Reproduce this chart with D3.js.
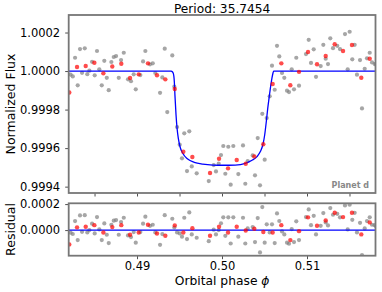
<!DOCTYPE html>
<html>
<head>
<meta charset="utf-8">
<script src="https://cdn.jsdelivr.net/npm/d3@7"></script>
<style>
  body { margin: 0; background: #fff; }
  text { font-family: "DejaVu Sans", sans-serif; }
</style>
</head>
<body>
<div id="chart"></div>
<script>
// unbinned points (phase, flux, residual)
const grayPhase = [0.48218,0.48244,0.48271,0.48302,0.48329,0.48353,0.48385,0.48415,0.48439,0.48471,0.48502,0.48529,0.48556,0.48585,0.48615,0.48644,0.48667,0.48698,0.48726,0.48753,0.48785,0.48812,0.48844,0.48894,0.48929,0.48961,0.48985,0.49039,0.49071,0.49098,0.49153,0.49185,0.49215,0.49271,0.49298,0.49326,0.49356,0.49415,0.49439,0.49471,0.49502,0.49529,0.49556,0.49588,0.49615,0.49644,0.49702,0.49844,0.49902,0.49929,0.49961,0.49988,0.50015,0.50039,0.50074,0.50102,0.50133,0.50192,0.50247,0.50274,0.50302,0.50361,0.50388,0.50420,0.50447,0.50474,0.50502,0.50526,0.50561,0.50588,0.50620,0.50647,0.50674,0.50706,0.50733,0.50765,0.50788,0.50820,0.50847,0.50874,0.50906,0.50988,0.51020,0.51047,0.51079,0.51106,0.51161,0.51192,0.51220,0.51247,0.51274,0.51306,0.51356,0.51388,0.51447,0.51479,0.51502,0.51533,0.51561,0.51588,0.51624,0.51647,0.51679,0.51706,0.51738,0.51765,0.51796,0.51812];
const grayFlux = [0.999982,0.999972,1.000069,0.999926,1.000114,0.999991,1.000118,0.999984,1.000002,1.000048,0.999978,1.000104,1.000009,0.999926,1.000053,0.999965,0.999901,1.000047,1.000073,1.000078,0.999965,1.000057,1.000095,0.999957,0.999947,0.999983,0.999905,0.999979,1.000050,1.000104,1.000035,1.000040,0.999990,0.999887,0.999967,1.000116,0.999787,1.000081,0.999919,0.999709,0.999618,0.999547,0.999677,0.999481,0.999687,0.999505,0.999469,0.999429,0.999512,0.999479,0.999519,0.999564,0.999611,0.999467,0.999607,0.999410,0.999611,0.999465,0.999614,0.999415,0.999533,0.999562,0.999459,0.999652,0.999407,0.999778,0.999540,0.999756,0.999869,1.000028,0.999903,1.000131,1.000076,0.999990,0.999965,0.999898,0.999891,1.000009,0.999905,1.000069,0.999924,1.000088,1.000162,1.000042,1.000113,0.999970,1.000026,1.000136,1.000064,1.000036,1.000170,1.000119,1.000131,1.000114,1.000192,1.000009,1.000204,1.000061,1.000136,0.999981,1.000057,0.999806,1.000012,1.000066,1.000095,1.000045,1.000036,1.000036];
const grayResid = [-0.00002,-0.00003,0.000069,-0.000077,0.000113,-0.000013,0.000115,-0.000018,0,0.000049,-0.000026,0.0001,0.000005,-0.000077,0.000051,-0.000036,-0.0001,0.000041,0.000072,0.000077,-0.000036,0.000062,0.000095,-0.000041,-0.000054,-0.000015,-0.000097,-0.000015,0.000049,0.000103,0.000033,0.000041,-0.000018,-0.000113,-0.000031,0.000115,-0.00021,0.000087,0.00002,-0.000018,-0.000026,-0.000051,0.000095,-0.000069,0.000136,-0.000033,-0.000059,-0.000085,0.000003,-0.000033,0,0.000052,0.000098,-0.000044,0.000098,-0.000103,0.000098,-0.000051,0.000095,-0.000103,0.000013,0.000023,-0.000092,0.000092,-0.000172,0.000177,-0.000097,0.000044,-0.000018,0.000044,-0.0001,0.000128,0.00007,-0.00001,-0.000033,-0.000097,-0.000105,0.000008,-0.000092,0.000067,-0.000077,0.0001,0.000159,0.000038,0.00011,-0.000033,0.000033,0.000131,0.000059,0.000036,0.000169,0.000118,0.000125,0.000098,0.00019,0.000005,0.000195,0.000079,0.000133,-0.000018,0.000056,-0.000192,0.000013,0.000069,0.000098,0.000041,0.000038,0.00003];

// binned points
const redPhase = [0.48203,0.48294,0.48396,0.48498,0.48604,0.48709,0.48815,0.48918,0.49020,0.49129,0.49235,0.49333,0.49444,0.49545,0.49651,0.49859,0.49965,0.50071,0.50173,0.50279,0.50380,0.50486,0.50596,0.50698,0.50804,0.50906,0.51012,0.51118,0.51220,0.51326,0.51424,0.51529,0.51639,0.51738];
const redFlux = [0.999889,1.000021,1.000026,1.000043,0.999988,1.000024,1.000038,0.999964,0.999983,1.000040,0.999978,0.999957,0.999907,0.999581,0.999554,0.999471,0.999545,0.999495,0.999538,0.999519,0.999557,0.999620,0.999933,1.000040,0.999926,0.999996,1.000099,1.000035,1.000078,1.000139,1.000104,1.000135,0.999965,1.000064];
const redResid = [-0.00011,0.000021,0.000026,0.000038,-0.000018,0.000023,0.000038,-0.000036,-0.000018,0.000041,-0.000026,-0.000044,0.000036,-0.000018,0.000015,-0.000044,0.000026,-0.000018,0.000026,-0.000003,0.00001,-0.000015,-0.000018,0.000038,-0.000077,-0.000008,0.000098,0.000033,0.000074,0.000133,0.0001,0.000133,-0.000033,0.000059];

// transit model
const modelPhase = [0.48196,0.49400,0.49418,0.49427,0.49439,0.49446,0.49459,0.49471,0.49486,0.49506,0.49538,0.49596,0.49674,0.49773,0.49891,0.50000,0.50156,0.50274,0.50353,0.50412,0.50451,0.50482,0.50502,0.50521,0.50538,0.50553,0.50576,0.50588,0.50600,0.50608,0.51806];
const modelFlux = [1.0,1.0,0.999995,0.999988,0.999944,0.999875,0.999772,0.999703,0.999651,0.999607,0.999573,0.999543,0.999526,0.999517,0.999512,0.999511,0.999512,0.999521,0.999537,0.999556,0.999582,0.999620,0.999668,0.999737,0.999806,0.999858,0.999932,0.999965,0.999990,1.0,1.0];

const fluxTicks = [0.9994, 0.9996, 0.9998, 1.0, 1.0002];
const residTicks = [0.0, 0.0002];
const phaseTicksTop = [0.485, 0.49, 0.495, 0.50, 0.505, 0.51, 0.515];
const phaseTicks = [0.49, 0.50, 0.51];

const W = 382, H = 292;
const left = 68.7, right = 375.5;
const top1 = 15, bot1 = 193;
const top2 = 203.3, bot2 = 255.7;

const svg = d3.select('#chart').append('svg')
    .attr('width', W).attr('height', H);

const x = d3.scaleLinear().domain([0.48196, 0.51806]).range([left, right]);
const yTop = d3.scaleLinear().domain([0.999367, 1.000291]).range([bot1, top1]);
const yBot = d3.scaleLinear().domain([-0.000197, 0.000206]).range([bot2, top2]);

const defs = svg.append('defs');
defs.append('clipPath').attr('id', 'clipTop').append('rect')
    .attr('x', left).attr('y', top1).attr('width', right - left).attr('height', bot1 - top1);
defs.append('clipPath').attr('id', 'clipBot').append('rect')
    .attr('x', left).attr('y', top2).attr('width', right - left).attr('height', bot2 - top2);

const gray = grayPhase.map((p, i) => ({ p, f: grayFlux[i], r: grayResid[i] }));
const red = redPhase.map((p, i) => ({ p, f: redFlux[i], r: redResid[i] }));
const model = modelPhase.map((p, i) => ({ p, f: modelFlux[i] }));

// top panel
const gTop = svg.append('g').attr('clip-path', 'url(#clipTop)');
gTop.selectAll('.g').data(gray).join('circle')
    .attr('cx', d => x(d.p)).attr('cy', d => yTop(d.f)).attr('r', 2.1)
    .attr('fill', 'gray').attr('fill-opacity', 0.7);
gTop.append('path').datum(model)
    .attr('d', d3.line().x(d => x(d.p)).y(d => yTop(d.f)).curve(d3.curveMonotoneX))
    .attr('fill', 'none').attr('stroke', 'blue').attr('stroke-width', 1.3);
gTop.selectAll('.r').data(red).join('circle')
    .attr('cx', d => x(d.p)).attr('cy', d => yTop(d.f)).attr('r', 2.2)
    .attr('fill', 'red').attr('fill-opacity', 0.7);

// bottom panel
const gBot = svg.append('g').attr('clip-path', 'url(#clipBot)');
gBot.selectAll('.g').data(gray).join('circle')
    .attr('cx', d => x(d.p)).attr('cy', d => yBot(d.r)).attr('r', 2.1)
    .attr('fill', 'gray').attr('fill-opacity', 0.7);
gBot.append('line')
    .attr('x1', left).attr('x2', right).attr('y1', yBot(0)).attr('y2', yBot(0))
    .attr('stroke', 'blue').attr('stroke-width', 1.3);
gBot.selectAll('.r').data(red).join('circle')
    .attr('cx', d => x(d.p)).attr('cy', d => yBot(d.r)).attr('r', 2.2)
    .attr('fill', 'red').attr('fill-opacity', 0.7);

// axes
function styleAxis(g) {
    g.select('.domain').remove();
    g.selectAll('.tick line').attr('stroke', '#222').attr('stroke-width', 0.8);
    g.selectAll('.tick text').attr('fill', '#000')
        .style('font-family', '"DejaVu Sans", sans-serif').style('font-size', '11.5px');
}
svg.append('g').attr('transform', `translate(${left},0)`)
    .call(d3.axisLeft(yTop).tickValues(fluxTicks).tickFormat(d3.format('.4f')).tickSize(3.5).tickPadding(5))
    .call(styleAxis);
svg.append('g').attr('transform', `translate(0,${bot1})`)
    .call(d3.axisBottom(x).tickValues(phaseTicksTop).tickFormat('').tickSize(3.5))
    .call(styleAxis);
svg.append('g').attr('transform', `translate(${left},0)`)
    .call(d3.axisLeft(yBot).tickValues(residTicks).tickFormat(d3.format('.4f')).tickSize(3.5).tickPadding(5))
    .call(styleAxis);
svg.append('g').attr('transform', `translate(0,${bot2})`)
    .call(d3.axisBottom(x).tickValues(phaseTicks).tickFormat(d3.format('.2f')).tickSize(3.5).tickPadding(3))
    .call(styleAxis);

// frames
[[top1, bot1], [top2, bot2]].forEach(([t, b]) => {
    svg.append('rect').attr('x', left).attr('y', t)
        .attr('width', right - left).attr('height', b - t)
        .attr('fill', 'none').attr('stroke', '#777').attr('stroke-width', 1.8);
});

// texts
svg.append('text').attr('x', (left + right) / 2).attr('y', 13)
    .attr('text-anchor', 'middle').style('font-size', '12.2px').text('Period: 35.7454');

svg.append('text').attr('x', 369).attr('y', 188)
    .attr('text-anchor', 'end').attr('fill', '#888').style('font-weight', 'bold')
    .style('font-size', '8px').text('Planet d');

svg.append('text').attr('transform', `translate(15,${(top1 + bot1) / 2}) rotate(-90)`)
    .attr('text-anchor', 'middle').style('font-size', '12.5px').text('Normalized Flux');
svg.append('text').attr('transform', `translate(15,${(top2 + bot2) / 2}) rotate(-90)`)
    .attr('text-anchor', 'middle').style('font-size', '12.5px').text('Residual');

const xl = svg.append('text').attr('x', (left + right) / 2).attr('y', 285)
    .attr('text-anchor', 'middle').style('font-size', '12.3px');
xl.append('tspan').text('Orbital phase ');
xl.append('tspan').style('font-style', 'italic').text('ϕ');
</script>
</body>
</html>
